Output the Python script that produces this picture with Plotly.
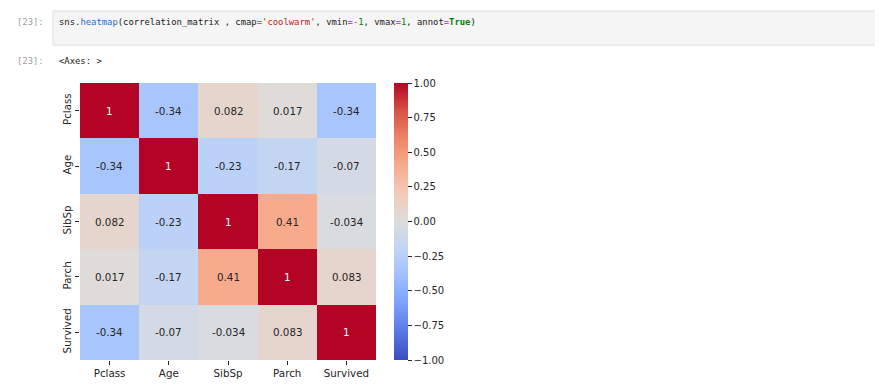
import plotly.graph_objects as go

# ---- data ----
labels = ["Pclass", "Age", "SibSp", "Parch", "Survived"]
row_pclass = [1.0, -0.34, 0.082, 0.017, -0.34]
row_age = [-0.34, 1.0, -0.23, -0.17, -0.07]
row_sibsp = [0.082, -0.23, 1.0, 0.41, -0.034]
row_parch = [0.017, -0.17, 0.41, 1.0, 0.083]
row_survived = [-0.34, -0.07, -0.034, 0.083, 1.0]
corr = [row_pclass, row_age, row_sibsp, row_parch, row_survived]

cbar_ticks = [1.0, 0.75, 0.5, 0.25, 0.0, -0.25, -0.5, -0.75, -1.0]

coolwarm = ["#3b4cc0", "#5977e3", "#7b9ff9", "#9ebeff", "#c0d4f5", "#dddcdc",
            "#f2cbb7", "#f7ac8e", "#ee8468", "#d65244", "#b40426"]
colorscale = [[i / (len(coolwarm) - 1), c] for i, c in enumerate(coolwarm)]

OFF = 8  # page body margin
W, H = 883 - OFF, 390 - OFF
def px(x):
    return (x - OFF) / W
def py(y):
    return 1 - (y - OFF) / H

fig = go.Figure()
fig.add_trace(go.Heatmap(
    z=corr, x=labels, y=labels, zmin=-1, zmax=1,
    colorscale=colorscale, xgap=0, ygap=0, hoverongaps=False,
    colorbar=dict(
        x=px(394), xanchor="left", y=py(360), yanchor="bottom",
        len=(360 - 83) / H, lenmode="fraction", thickness=14,
        xpad=0, ypad=0, outlinewidth=0,
        tickmode="array", tickvals=cbar_ticks, tickformat=".2f",
        ticks="outside", ticklen=4, tickwidth=1, tickcolor="#262626",
        tickfont=dict(family="DejaVu Sans", size=10, color="#262626"),
    ),
))

mono = "DejaVu Sans Mono"
annotations = []
for i, rlab in enumerate(labels):
    for j, clab in enumerate(labels):
        v = corr[i][j]
        annotations.append(dict(
            x=clab, y=rlab, xref="x", yref="y", text=format(v, ".2g"),
            showarrow=False,
            font=dict(family="DejaVu Sans", size=10.3,
                      color="#ffffff" if v > 0.9 else "#262626"),
        ))

code_html = (
    "sns.<span style='color:#1f6fc5'>heatmap</span>(correlation_matrix , cmap"
    "<span style='color:#aa22ff'>=</span><span style='color:#ba2121'>'coolwarm'</span>, vmin"
    "<span style='color:#aa22ff'>=-</span><span style='color:#008000'>1</span>, vmax"
    "<span style='color:#aa22ff'>=</span><span style='color:#008000'>1</span>, annot"
    "<span style='color:#aa22ff'>=</span><span style='color:#008000'><b>True</b></span>)"
)
annotations += [
    dict(x=px(57), y=py(22), xref="paper", yref="paper", xanchor="left", yanchor="middle",
         align="left", text=code_html, showarrow=False,
         font=dict(family=mono, size=8.9, color="#212121")),
    dict(x=px(46), y=py(22), xref="paper", yref="paper", xanchor="right", yanchor="middle",
         align="right", text="[23]:", showarrow=False,
         font=dict(family=mono, size=8.9, color="#a0a0a0")),
    dict(x=px(46), y=py(61), xref="paper", yref="paper", xanchor="right", yanchor="middle",
         align="right", text="[23]:", showarrow=False,
         font=dict(family=mono, size=8.9, color="#a0a0a0")),
    dict(x=px(57), y=py(61), xref="paper", yref="paper", xanchor="left", yanchor="middle",
         align="left", text="&lt;Axes: &gt;", showarrow=False,
         font=dict(family=mono, size=8.9, color="#212121")),
]

shapes = [dict(type="rect", xref="paper", yref="paper",
               x0=px(53), x1=px(876), y0=py(45), y1=py(11),
               fillcolor="#f5f5f5", line=dict(color="#e0e0e0", width=1), layer="below")]

fig.update_layout(
    width=W, height=H, margin=dict(l=0, r=0, t=0, b=0),
    paper_bgcolor="white", plot_bgcolor="white",
    annotations=annotations, shapes=shapes,
    xaxis=dict(domain=[px(80), px(376)], showgrid=False, zeroline=False, showline=False,
               ticks="outside", ticklen=4, tickcolor="#262626",
               tickfont=dict(family="DejaVu Sans", size=10.3, color="#262626")),
    yaxis=dict(domain=[py(360), py(83)], autorange="reversed", showgrid=False,
               zeroline=False, showline=False, tickangle=-90,
               ticks="outside", ticklen=4, tickcolor="#262626",
               tickfont=dict(family="DejaVu Sans", size=10.3, color="#262626")),
    font=dict(family="DejaVu Sans"),
)

fig.write_html("out.html")
